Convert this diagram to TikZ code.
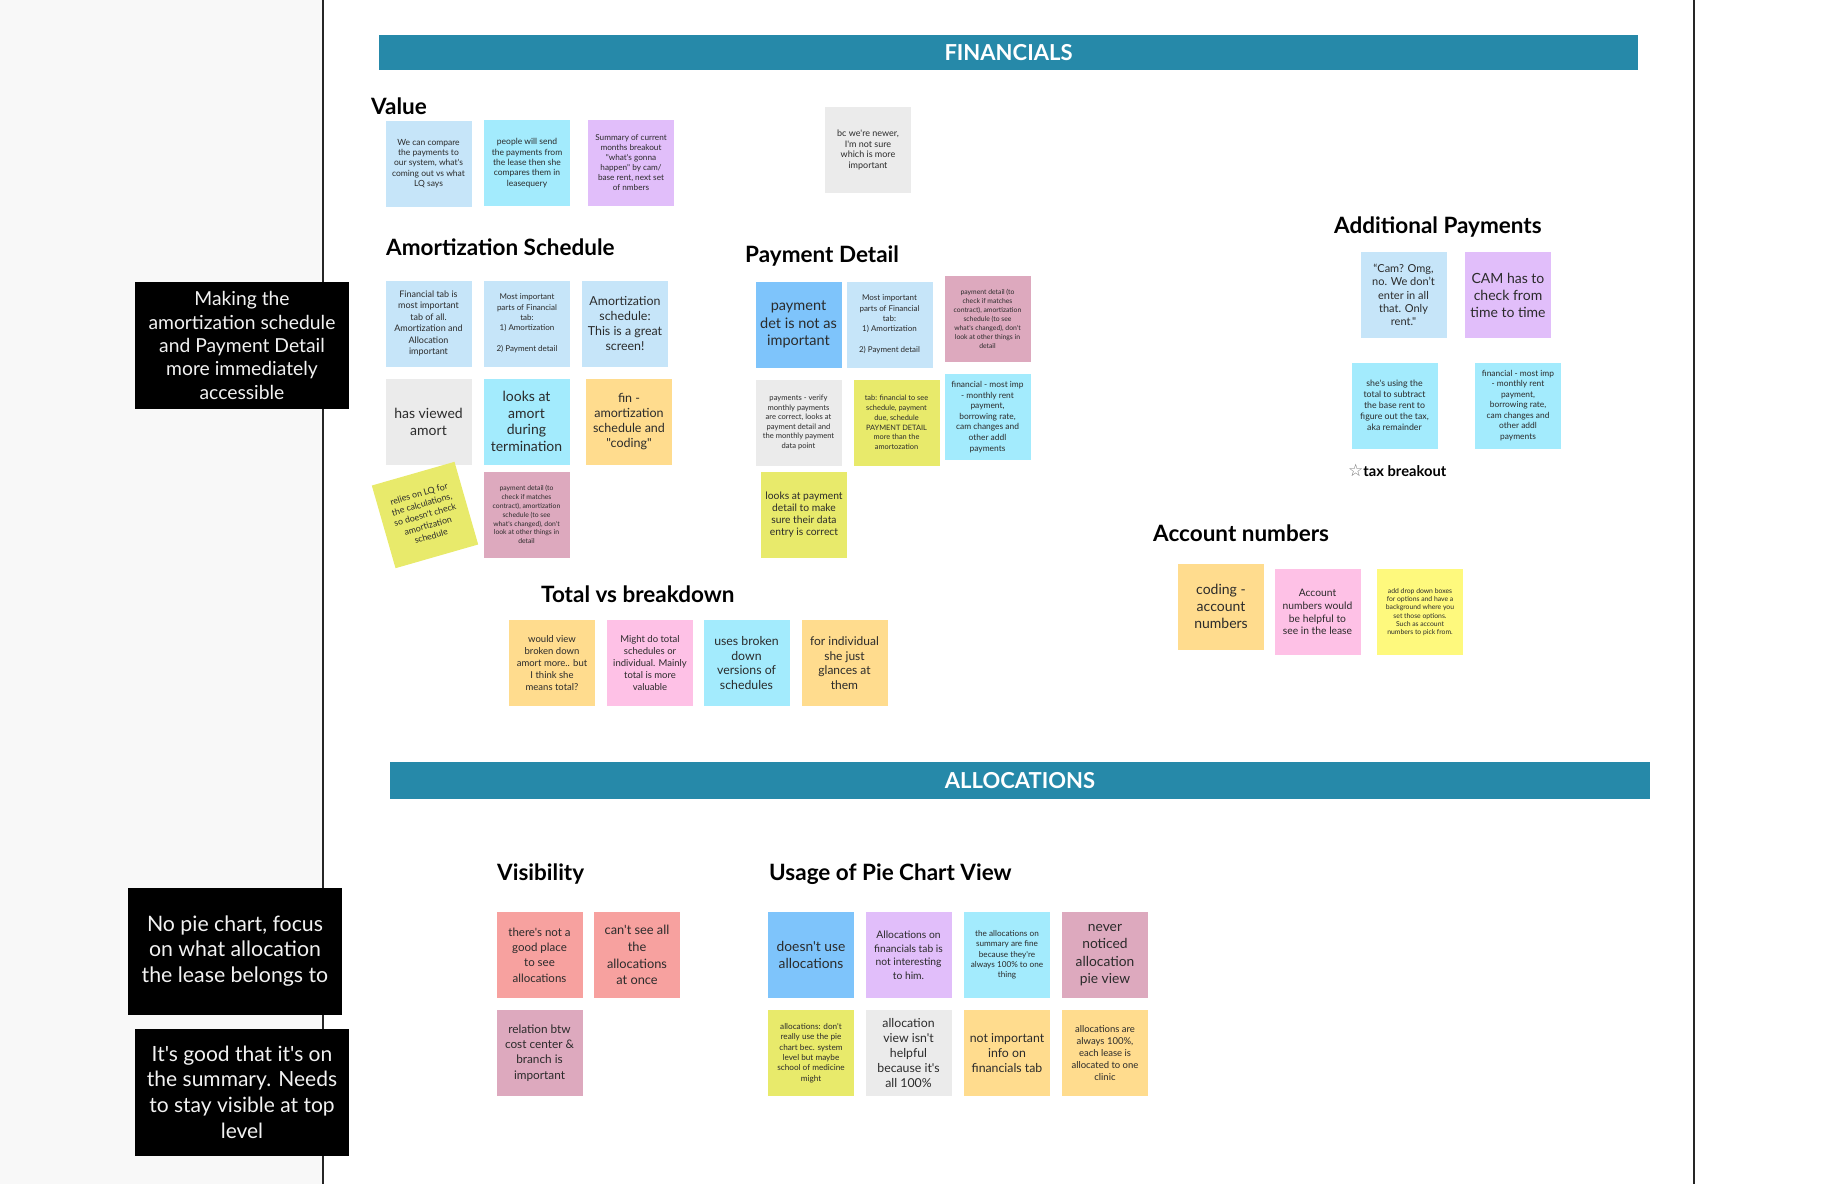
\documentclass[tikz,border=0pt]{standalone}
\usepackage{fontspec}
\setmainfont{Lato}[Ligatures=TeXOff]
\newfontfamily\symfnt{DejaVu Sans}
\newcommand\fsz[2]{\fontsize{#1}{#2}\selectfont}
\definecolor{cLB}{HTML}{C6E5F9}
\definecolor{cCy}{HTML}{A3EBFD}
\definecolor{cPu}{HTML}{E1BEFA}
\definecolor{cGr}{HTML}{EBEBEB}
\definecolor{cOr}{HTML}{FFDC8E}
\definecolor{cYG}{HTML}{E8EA6B}
\definecolor{cMa}{HTML}{DDA9BE}
\definecolor{cBl}{HTML}{7EC4FB}
\definecolor{cPk}{HTML}{FEC1E6}
\definecolor{cYe}{HTML}{FEF97D}
\definecolor{cSa}{HTML}{F7A19F}
\definecolor{cTeal}{HTML}{2689A9}
\definecolor{cTxt}{HTML}{2B2B2B}
\definecolor{cBoxTxt}{HTML}{F2F2F2}
\definecolor{cLeft}{HTML}{F8F8F8}
\begin{document}
\begin{tikzpicture}[x=1pt,y=-1pt,
  sticky/.style={minimum width=86, minimum height=86, inner sep=0pt, align=center, text=cTxt},
  head/.style={anchor=base west, inner sep=0pt, text=black, font=\fsz{22.5}{26}\bfseries},
  blackbox/.style={fill=black, text=cBoxTxt, align=center, inner sep=0pt, minimum width=214, minimum height=127},
  banner/.style={fill=cTeal, text=white, inner sep=0pt, font=\fsz{22}{26}\bfseries},
  divider/.style={line width=2pt, draw=black!85}
]
\useasboundingbox (0,0) rectangle (1828,1184);
\fill[cLeft] (0,0) rectangle (323,1184);
\coordinate (l1t) at (323,0); \coordinate (l1b) at (323,1184);
\coordinate (l2t) at (1694,0); \coordinate (l2b) at (1694,1184);
\draw[divider] (l1t) -- (l1b);
\draw[divider] (l2t) -- (l2b);

% black boxes
\node[blackbox, font=\fsz{19.3}{23.3}] (b1) at (242,345.5) {Making the\\amortization schedule\\and Payment Detail\\more immediately\\accessible};
\node[blackbox, font=\fsz{21.3}{25.7}] (b2) at (235,951) {No pie chart, focus\\on what allocation\\the lease belongs to};
\node[blackbox, font=\fsz{21}{25.7}] (b3) at (242,1092) {It's good that it's on\\the summary. Needs\\to stay visible at top\\level};

% banners
\node[banner, minimum width=1259, minimum height=35] (fin) at (1008.5,52.5) {FINANCIALS};
\node[banner, minimum width=1260, minimum height=37] (alloc) at (1020,780.5) {ALLOCATIONS};

% headings
\node[head] (hval) at (371,114) {Value};
\node[head] (hamort) at (386,255) {Amortization Schedule};
\node[head] (hpay) at (745,262) {Payment Detail};
\node[head] (hadd) at (1334,233) {Additional Payments};
\node[head] (hacc) at (1153,541) {Account numbers};
\node[head] (htot) at (541,602) {Total vs breakdown};
\node[head] (hvis) at (497,880) {Visibility};
\node[head] (hpie) at (769,880) {Usage of Pie Chart View};
\node[anchor=base west, inner sep=0pt, font=\fsz{14.7}{17}\bfseries] (tax) at (1348,476) {{\symfnt\fsz{17}{17}\mdseries\color{black!55}☆}tax breakout};

% Value
\node[sticky, fill=cLB, font=\fsz{8.5}{10.4}] (v1) at (428.5,163.5) {We can compare\\the payments to\\our system, what's\\coming out vs what\\LQ says};
\node[sticky, fill=cCy, font=\fsz{8.5}{10.4}] (v2) at (527,163) {people will send\\the payments from\\the lease then she\\compares them in\\leasequery};
\node[sticky, fill=cPu, font=\fsz{8.2}{10}] (v3) at (631,163) {Summary of current\\months breakout\\"what's gonna\\happen" by cam/\\base rent, next set\\of nmbers};
\node[sticky, fill=cGr, font=\fsz{9}{10.7}] (v4) at (868,150) {bc we're newer,\\I'm not sure\\which is more\\important};

% Amortization
\node[sticky, fill=cLB, font=\fsz{9}{11.5}] (a1) at (428.5,323.5) {Financial tab is\\most important\\tab of all.\\Amortization and\\Allocation\\important};
\node[sticky, fill=cLB, font=\fsz{8}{10.3}] (a2) at (527,323.5) {Most important\\parts of Financial\\tab:\\1) Amortization\\~\\2) Payment detail};
\node[sticky, fill=cLB, font=\fsz{12.4}{14.7}] (a3) at (625,323.5) {Amortization\\schedule:\\This is a great\\screen!};
\node[sticky, fill=cGr, font=\fsz{14}{17}] (a4) at (428.5,421.5) {has viewed\\amort};
\node[sticky, fill=cCy, font=\fsz{14}{16.7}] (a5) at (526.5,421.5) {looks at\\amort\\during\\termination};
\node[sticky, fill=cOr, font=\fsz{12.5}{15}] (a6) at (629,421.5) {fin -\\amortization\\schedule and\\"coding"};
\node[sticky, fill=cYG, font=\fsz{8.8}{11}, rotate=16] (a7) at (425,515) {relies on LQ for\\the calculations,\\so doesn't check\\amortization\\schedule};
\node[sticky, fill=cMa, font=\fsz{6.8}{8.9}] (a8) at (526.5,514.5) {payment detail (to\\check if matches\\contract), amortization\\schedule (to see\\what's changed), don't\\look at other things in\\detail};

% Payment detail
\node[sticky, fill=cBl, font=\fsz{14.5}{17.3}] (p1) at (798.5,324.5) {payment\\det is not as\\important};
\node[sticky, fill=cLB, font=\fsz{8}{10.3}] (p2) at (889.5,324.5) {Most important\\parts of Financial\\tab:\\1) Amortization\\~\\2) Payment detail};
\node[sticky, fill=cMa, font=\fsz{6.8}{8.9}] (p3) at (987.5,319) {payment detail (to\\check if matches\\contract), amortization\\schedule (to see\\what's changed), don't\\look at other things in\\detail};
\node[sticky, fill=cGr, font=\fsz{7.6}{9.5}] (p4) at (798.5,422.5) {payments - verify\\monthly payments\\are correct, looks at\\payment detail and\\the monthly payment\\data point};
\node[sticky, fill=cYG, font=\fsz{7.4}{9.7}] (p5) at (896.5,422.5) {tab: financial to see\\schedule, payment\\due, schedule\\PAYMENT DETAIL\\more than the\\amortozation};
\node[sticky, fill=cCy, font=\fsz{8.4}{10.6}] (p6) at (987.5,417) {financial - most imp\\- monthly rent\\payment,\\borrowing rate,\\cam changes and\\other addl\\payments};
\node[sticky, fill=cYG, font=\fsz{10.3}{12}] (p7) at (804,515) {looks at payment\\detail to make\\sure their data\\entry is correct};

% Additional payments
\node[sticky, fill=cLB, font=\fsz{11}{13.3}] (ap1) at (1403.5,295) {“Cam? Omg,\\no. We don’t\\enter in all\\that. Only\\rent."};
\node[sticky, fill=cPu, font=\fsz{14}{17}] (ap2) at (1508,295) {CAM has to\\check from\\time to time};
\node[sticky, fill=cCy, font=\fsz{8.8}{11}] (ap3) at (1394.5,405.5) {she's using the\\total to subtract\\the base rent to\\figure out the tax,\\aka remainder};
\node[sticky, fill=cCy, font=\fsz{8.4}{10.5}] (ap4) at (1518,405.5) {financial - most imp\\- monthly rent\\payment,\\borrowing rate,\\cam changes and\\other addl\\payments};

% Account numbers
\node[sticky, fill=cOr, font=\fsz{14}{17}] (an1) at (1221,606.5) {coding -\\account\\numbers};
\node[sticky, fill=cPk, font=\fsz{10.3}{12.7}] (an2) at (1317.5,612) {Account\\numbers would\\be helpful to\\see in the lease};
\node[sticky, fill=cYe, font=\fsz{6.8}{8.3}] (an3) at (1420,612) {add drop down boxes\\for options and have a\\background where you\\set those options.\\Such as account\\numbers to pick from.};

% Total vs breakdown
\node[sticky, fill=cOr, font=\fsz{9.5}{12}] (t1) at (552,663) {would view\\broken down\\amort more.. but\\I think she\\means total?};
\node[sticky, fill=cPk, font=\fsz{9.5}{12}] (t2) at (650,663) {Might do total\\schedules or\\individual. Mainly\\total is more\\valuable};
\node[sticky, fill=cCy, font=\fsz{12.3}{14.7}] (t3) at (746.5,663) {uses broken\\down\\versions of\\schedules};
\node[sticky, fill=cOr, font=\fsz{12}{14.7}] (t4) at (844.5,663) {for individual\\she just\\glances at\\them};

% Visibility
\node[sticky, fill=cSa, font=\fsz{11.5}{15.3}] (vi1) at (539.5,955) {there's not a\\good place\\to see\\allocations};
\node[sticky, fill=cSa, font=\fsz{12.8}{16.7}] (vi2) at (637,955) {can't see all\\the\\allocations\\at once};
\node[sticky, fill=cMa, font=\fsz{11.8}{15.2}] (vi3) at (539.5,1053) {relation btw\\cost center \&\\branch is\\important};

% Pie chart
\node[sticky, fill=cBl, font=\fsz{13.8}{17}] (pc1) at (811,955) {doesn't use\\allocations};
\node[sticky, fill=cPu, font=\fsz{10.3}{13.5}] (pc2) at (908.5,955) {Allocations on\\financials tab is\\not interesting\\to him.};
\node[sticky, fill=cCy, font=\fsz{8.2}{10.3}] (pc3) at (1007,955) {the allocations on\\summary are fine\\because they're\\always 100\% to one\\thing};
\node[sticky, fill=cMa, font=\fsz{13.8}{17.3}] (pc4) at (1105,955) {never\\noticed\\allocation\\pie view};
\node[sticky, fill=cYG, font=\fsz{8.2}{10.3}] (pc5) at (811,1053) {allocations: don't\\really use the pie\\chart bec. system\\level but maybe\\school of medicine\\might};
\node[sticky, fill=cGr, font=\fsz{12.3}{15}] (pc6) at (908.5,1053) {allocation\\view isn't\\helpful\\because it's\\all 100\%};
\node[sticky, fill=cOr, font=\fsz{12.3}{15}] (pc7) at (1007,1053) {not important\\info on\\financials tab};
\node[sticky, fill=cOr, font=\fsz{9.5}{12}] (pc8) at (1105,1053) {allocations are\\always 100\%,\\each lease is\\allocated to one\\clinic};
\end{tikzpicture}
\end{document}
